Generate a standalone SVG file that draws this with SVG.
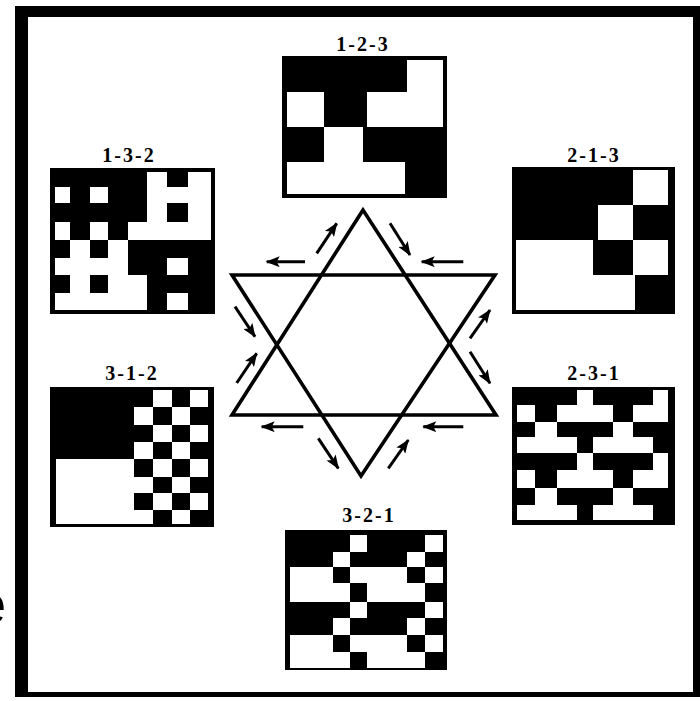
<svg xmlns="http://www.w3.org/2000/svg" width="700" height="701" viewBox="0 0 700 701">
<style>
.bg{fill:#fff}
.frame{fill:#000}
.box{fill:#000}
.w{fill:#fff;shape-rendering:crispEdges}
.lbl{font-family:"Liberation Serif","Times New Roman",serif;font-weight:bold;font-size:20px;text-anchor:middle;letter-spacing:2px;fill:#000}
.star{fill:none;stroke:#000;stroke-width:3.6;stroke-linejoin:miter}
.arr{stroke:#000;stroke-width:3;fill:none;marker-end:url(#ah)}
.stray{font-family:"Liberation Sans",Arial,sans-serif;font-size:58px;fill:#000}
</style>
<defs>
<marker id="ah" viewBox="0 0 14 11" refX="13" refY="5.5" markerWidth="15" markerHeight="11" markerUnits="userSpaceOnUse" orient="auto">
<path d="M0,0 L14,5.5 L0,11 L3,5.5 z" fill="#000"/>
</marker>
</defs>
<rect class="bg" x="0" y="0" width="700" height="701"/>
<g id="frame">
<rect class="frame" x="15" y="6" width="13" height="691"/>
<rect class="frame" x="15" y="6" width="685" height="11"/>
<rect class="frame" x="693" y="6" width="7" height="691"/>
<rect class="frame" x="15" y="692" width="685" height="5"/>
</g>
<text class="stray" x="-26" y="624">e</text>

<g id="p123">
<text class="lbl" x="363" y="51">1-2-3</text>
<rect class="box" x="282" y="56" width="165" height="142"/>
<rect class="w" x="407" y="60" width="36" height="32"/>
<rect class="w" x="287" y="92" width="37" height="35"/>
<rect class="w" x="367" y="92" width="76" height="35"/>
<rect class="w" x="324" y="127" width="39" height="35"/>
<rect class="w" x="287" y="162" width="118" height="32"/>
</g>

<g id="p132">
<text class="lbl" x="129" y="162">1-3-2</text>
<rect class="box" x="50" y="168" width="165" height="146"/>
<rect class="w" x="147" y="172" width="20" height="15"/>
<rect class="w" x="188" y="172" width="23" height="15"/>
<rect class="w" x="55" y="187" width="15" height="16"/>
<rect class="w" x="90" y="187" width="18" height="16"/>
<rect class="w" x="147" y="187" width="64" height="16"/>
<rect class="w" x="147" y="203" width="20" height="19"/>
<rect class="w" x="188" y="203" width="23" height="19"/>
<rect class="w" x="55" y="222" width="15" height="18"/>
<rect class="w" x="90" y="222" width="18" height="18"/>
<rect class="w" x="128" y="222" width="83" height="18"/>
<rect class="w" x="70" y="240" width="20" height="18"/>
<rect class="w" x="108" y="240" width="20" height="18"/>
<rect class="w" x="55" y="258" width="73" height="17"/>
<rect class="w" x="167" y="258" width="21" height="17"/>
<rect class="w" x="70" y="275" width="20" height="18"/>
<rect class="w" x="108" y="275" width="39" height="18"/>
<rect class="w" x="55" y="293" width="92" height="17"/>
<rect class="w" x="167" y="293" width="21" height="17"/>
</g>

<g id="p213">
<text class="lbl" x="594" y="162">2-1-3</text>
<rect class="box" x="512" y="167" width="163" height="147"/>
<rect class="w" x="633" y="170" width="35" height="35"/>
<rect class="w" x="598" y="205" width="35" height="35"/>
<rect class="w" x="516" y="240" width="77" height="35"/>
<rect class="w" x="633" y="240" width="35" height="35"/>
<rect class="w" x="516" y="275" width="119" height="35"/>
</g>

<g id="p312">
<text class="lbl" x="132" y="380">3-1-2</text>
<rect class="box" x="50" y="387" width="164" height="140"/>
<rect class="w" x="56" y="459" width="78" height="65"/>
<rect class="w" x="134" y="407" width="19" height="18"/>
<rect class="w" x="134" y="442" width="19" height="17"/>
<rect class="w" x="134" y="477" width="19" height="16"/>
<rect class="w" x="134" y="510" width="19" height="14"/>
<rect class="w" x="153" y="390" width="19" height="17"/>
<rect class="w" x="153" y="425" width="19" height="17"/>
<rect class="w" x="153" y="459" width="19" height="18"/>
<rect class="w" x="153" y="493" width="19" height="17"/>
<rect class="w" x="172" y="407" width="18" height="18"/>
<rect class="w" x="172" y="442" width="18" height="17"/>
<rect class="w" x="172" y="477" width="18" height="16"/>
<rect class="w" x="172" y="510" width="18" height="14"/>
<rect class="w" x="190" y="390" width="18" height="17"/>
<rect class="w" x="190" y="425" width="18" height="17"/>
<rect class="w" x="190" y="459" width="18" height="18"/>
<rect class="w" x="190" y="493" width="18" height="17"/>
</g>

<g id="p231">
<text class="lbl" x="594" y="380">2-3-1</text>
<rect class="box" x="512" y="387" width="163" height="138"/>
<rect class="w" x="577" y="390" width="16" height="15"/>
<rect class="w" x="653" y="390" width="15" height="15"/>
<rect class="w" x="517" y="405" width="18" height="17"/>
<rect class="w" x="557" y="405" width="56" height="17"/>
<rect class="w" x="633" y="405" width="35" height="17"/>
<rect class="w" x="535" y="422" width="22" height="15"/>
<rect class="w" x="613" y="422" width="20" height="15"/>
<rect class="w" x="517" y="437" width="60" height="16"/>
<rect class="w" x="593" y="437" width="60" height="16"/>
<rect class="w" x="577" y="453" width="16" height="17"/>
<rect class="w" x="653" y="453" width="15" height="17"/>
<rect class="w" x="517" y="470" width="18" height="18"/>
<rect class="w" x="557" y="470" width="56" height="18"/>
<rect class="w" x="633" y="470" width="35" height="18"/>
<rect class="w" x="535" y="488" width="22" height="17"/>
<rect class="w" x="613" y="488" width="20" height="17"/>
<rect class="w" x="517" y="505" width="60" height="15"/>
<rect class="w" x="593" y="505" width="60" height="15"/>
</g>

<g id="p321">
<text class="lbl" x="369" y="522">3-2-1</text>
<rect class="box" x="285" y="530" width="162" height="140"/>
<rect class="w" x="350" y="535" width="17" height="17"/>
<rect class="w" x="425" y="535" width="18" height="17"/>
<rect class="w" x="333" y="552" width="17" height="15"/>
<rect class="w" x="407" y="552" width="18" height="15"/>
<rect class="w" x="290" y="567" width="43" height="16"/>
<rect class="w" x="350" y="567" width="57" height="16"/>
<rect class="w" x="425" y="567" width="18" height="16"/>
<rect class="w" x="290" y="583" width="60" height="19"/>
<rect class="w" x="367" y="583" width="58" height="19"/>
<rect class="w" x="350" y="602" width="17" height="16"/>
<rect class="w" x="425" y="602" width="18" height="16"/>
<rect class="w" x="333" y="618" width="17" height="17"/>
<rect class="w" x="407" y="618" width="18" height="17"/>
<rect class="w" x="290" y="635" width="43" height="17"/>
<rect class="w" x="350" y="635" width="57" height="17"/>
<rect class="w" x="425" y="635" width="18" height="17"/>
<rect class="w" x="290" y="652" width="60" height="16"/>
<rect class="w" x="367" y="652" width="58" height="16"/>
</g>

<g id="star">
<polygon class="star" points="363,210 232,415 496,415"/>
<polygon class="star" points="232,275 495,275 361,476"/>
</g>

<g id="connectors">
<line class="arr" x1="316.7" y1="253.3" x2="336.7" y2="223.3"/>
<line class="arr" x1="390" y1="223.3" x2="410" y2="255"/>
<line class="arr" x1="305" y1="261.7" x2="266.7" y2="261.7"/>
<line class="arr" x1="463.3" y1="261.7" x2="421.7" y2="261.7"/>
<line class="arr" x1="235" y1="306.7" x2="255" y2="336.7"/>
<line class="arr" x1="236.7" y1="383" x2="256.7" y2="353.3"/>
<line class="arr" x1="470" y1="338.3" x2="490" y2="310"/>
<line class="arr" x1="470" y1="351.7" x2="490" y2="383.3"/>
<line class="arr" x1="303.3" y1="426.7" x2="261.7" y2="426.7"/>
<line class="arr" x1="463.3" y1="426.7" x2="423.3" y2="426.7"/>
<line class="arr" x1="318.3" y1="438.3" x2="338.3" y2="468.3"/>
<line class="arr" x1="388.3" y1="468.3" x2="408.3" y2="440"/>
</g>
</svg>
